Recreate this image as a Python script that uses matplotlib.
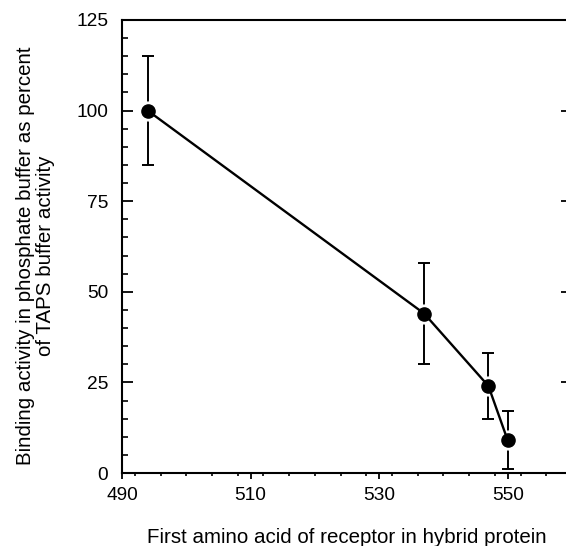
import matplotlib
matplotlib.use('Agg')
import matplotlib.pyplot as plt
from matplotlib.ticker import MultipleLocator

# first amino acid position vs relative binding activity
residue = [494, 537, 547, 550]
activity = [100, 44, 24, 9]
err_low = [85, 30, 15, 1]
err_high = [115, 58, 33, 17]

x_ticks = [490, 510, 530, 550]
y_ticks = [0, 25, 50, 75, 100, 125]

plt.rcParams['font.family'] = ['Liberation Sans', 'DejaVu Sans']

fig = plt.figure(figsize=(5.66, 5.46), dpi=100)
ax = fig.add_axes([122 / 566, 1 - 473 / 546, 450 / 566, 453 / 546])

yerr = [[a - lo for a, lo in zip(activity, err_low)],
        [hi - a for a, hi in zip(activity, err_high)]]

# error bars first, a white halo breaks them around each marker
ax.errorbar(residue, activity, yerr=yerr, fmt='none', ecolor='black',
            elinewidth=1.4, capsize=4.5, capthick=1.4, zorder=1)
ax.plot(residue, activity, 'o', color='white', markersize=13.5, zorder=2)
ax.plot(residue, activity, '-o', color='black', linewidth=1.7,
        markersize=9.5, zorder=3)

ax.set_xlim(490, 560)
ax.set_ylim(0, 125)
ax.set_xticks(x_ticks)
ax.set_yticks(y_ticks)
ax.xaxis.set_minor_locator(MultipleLocator(4))
ax.yaxis.set_minor_locator(MultipleLocator(5))

for s in ax.spines.values():
    s.set_linewidth(1.5)

ax.tick_params(axis='x', which='major', direction='out', length=4,
               width=1.3, labelsize=13.8, pad=6)
ax.tick_params(axis='x', which='minor', direction='out', length=2.5,
               width=1.2)
ax.tick_params(axis='y', which='major', direction='in', length=8,
               width=1.3, labelsize=13.8, pad=10, right=True)
ax.tick_params(axis='y', which='minor', direction='in', length=4,
               width=1.2, right=True)

ax.set_xlabel('First amino acid of receptor in hybrid protein',
              fontsize=14.8)
ax.set_ylabel('Binding activity in phosphate buffer as percent\n'
              'of TAPS buffer activity', fontsize=14.8, linespacing=1.12)
ax.xaxis.set_label_coords(0.5, -0.122)
ax.yaxis.set_label_coords(-0.148, 0.48)

fig.savefig('out.png', dpi=100)
